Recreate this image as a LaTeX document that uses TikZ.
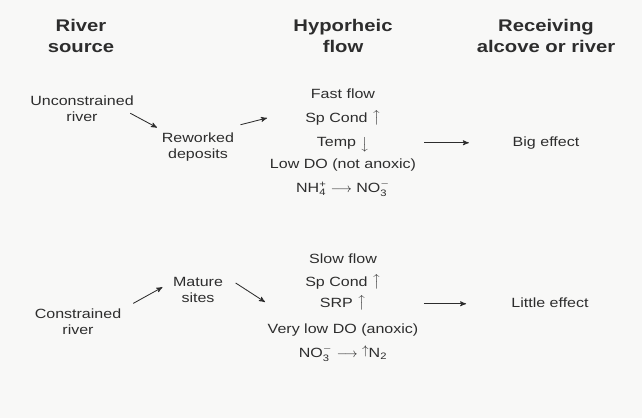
\documentclass[tikz,border=0pt]{standalone}
\usepackage{amsmath}
\usepackage{fontspec}
\setmainfont{Liberation Sans}[FakeStretch=1.2]
\usetikzlibrary{positioning,arrows}
\definecolor{paper}{RGB}{248,248,247}
\definecolor{ink}{RGB}{45,45,45}
\tikzset {
heading/.style={font=\fontsize{12}{15}\selectfont\bfseries,align=center,text=ink},
place/.style={font=\fontsize{9.5}{11.7}\selectfont,align=center,text=ink},
entry/.style={font=\fontsize{9.5}{11.7}\selectfont,anchor=base,text=ink,inner sep=1pt},
flow/.style={->,draw=ink,line width=0.6pt}
}

\begin{document}
\begin{tikzpicture}
[x=0.025cm,y=-0.025cm,>=stealth']
\fill[paper] (0,0) rectangle (642,418);
\useasboundingbox (0,0) rectangle (642,418);
\node[heading] (h1) at (81,36) {River\\source};
\node[heading] (h2) at (343,36) {Hyporheic\\flow};
\node[heading] (h3) at (546,36) {Receiving\\alcove or river};
% upper row
\node[place] (q1) at (82,109) {Unconstrained\\river};
\node[place] (s1) at (198,147) {Reworked\\deposits};
\coordinate (i1) at (267,118);
\node[entry] (f1) at (343,98.5) {Fast flow};
\node[entry] (f2) at (343,122.5) {Sp Cond \raisebox{1pt}{$\big\uparrow$}};
\node[entry] (f3) at (343,146.5) {Temp \raisebox{-1pt}{$\big\downarrow$}};
\node[entry] (f4) at (343,168.5) {Low DO (not anoxic)};
\node[entry] (f5) at (343,192.5) {NH$_{\text{4}}^{\text{+}}$ $\longrightarrow$ NO$_{\text{3}}^{-}$};
\node[entry] (e1) at (546,146.5) {Big effect};
\draw[flow] ([shift={(-6pt,-3pt)}]q1.east) -- (s1.north west);
\draw[flow] ([shift={(1pt,2pt)}]s1.north east) -- (i1);
\draw[flow,shorten <=38pt,shorten >=30pt] (f3.mid east) -- (e1.mid west);
% lower row
\node[place] (q2) at (78,321.5) {Constrained\\river};
\node[place] (s2) at (198,290) {Mature\\sites};
\coordinate (i2) at (265,302);
\node[entry] (g1) at (343,264) {Slow flow};
\node[entry] (g2) at (343,286.5) {Sp Cond \raisebox{1pt}{$\big\uparrow$}};
\node[entry] (g3) at (343,307.5) {SRP \raisebox{1pt}{$\big\uparrow$}};
\node[entry] (g4) at (343,333.5) {Very low DO (anoxic)};
\node[entry] (g5) at (343,357.5) {NO$_{\text{3}}^{-}$ $\longrightarrow$ \raisebox{2pt}{$\uparrow$}N$_{\text{2}}$};
\node[entry] (e2) at (550,307.5) {Little effect};
\draw[flow] ([xshift=5pt]q2.north east) -- ([shift={(-4pt,2pt)}]s2.west);
\draw[flow] ([shift={(5.5pt,5pt)}]s2.east) -- (i2);
\draw[flow,shorten <=40pt,shorten >=31pt] (g3.mid east) -- (e2.mid west);
\end{tikzpicture}
\end{document}
